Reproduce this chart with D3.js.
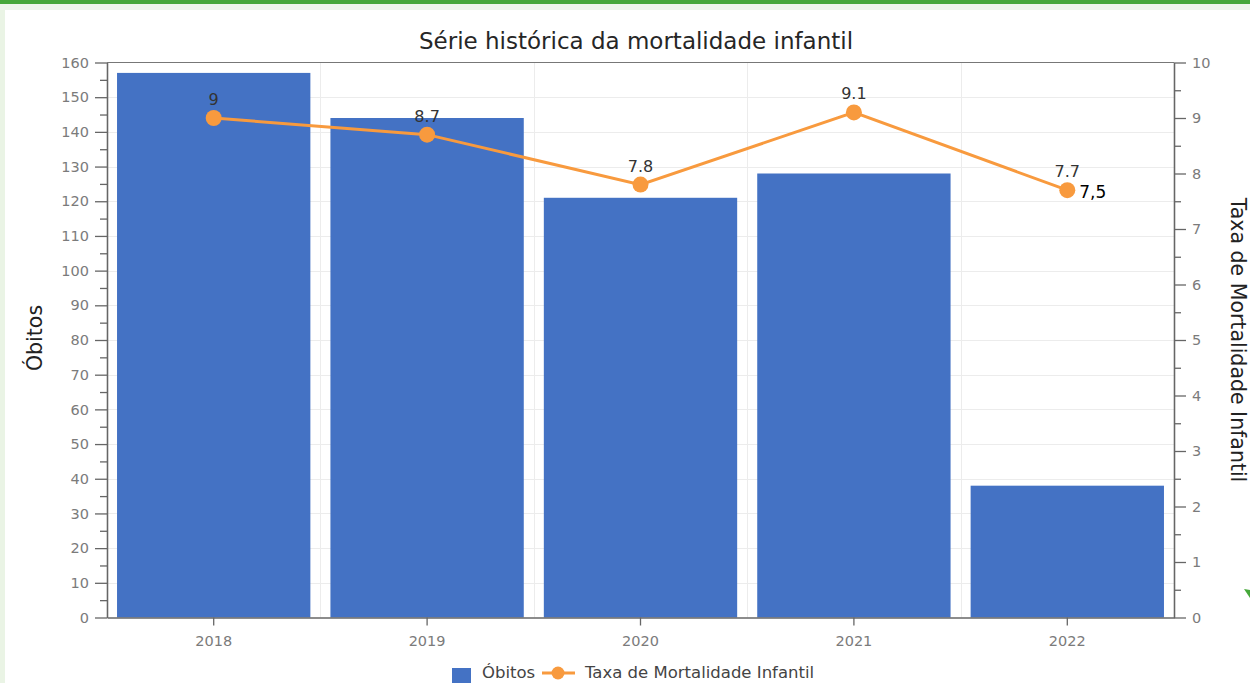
<!DOCTYPE html>
<html>
<head>
<meta charset="utf-8">
<script src="https://cdn.jsdelivr.net/npm/d3@7"></script>
<style>
  html, body { margin: 0; padding: 0; background: #fff; }
  svg { display: block; font-family: "DejaVu Sans", Verdana, sans-serif; }
</style>
</head>
<body>
<svg id="chart" width="1250" height="683"></svg>
<script>
// data
const years = ["2018", "2019", "2020", "2021", "2022"];
const obitos = [157, 144, 121, 128, 38];
const taxa = [9, 8.7, 7.8, 9.1, 7.7];
const taxaLabels = ["9", "8.7", "7.8", "9.1", "7.7"];
const leftTicks = d3.range(0, 161, 10);
const rightTicks = d3.range(0, 11, 1);
const note = "7,5";

const title = "Série histórica da mortalidade infantil";
const leftTitle = "Óbitos";
const rightTitle = "Taxa de Mortalidade Infantil";

/* Set up */
const svg = d3.select("#chart");
const width = 1250;
const height = 683;
const plotLeft = 107, plotRight = 1174, plotTop = 62.5, plotBottom = 617.5;
const barColor = "#4472C4";
const lineColor = "#F89A3E";
const tickColor = "#7b7b7b";

// page decoration round the chart
svg.append("rect").attr("width", width).attr("height", height).attr("fill", "#fff");
svg.append("rect").attr("x", 0).attr("y", 0).attr("width", 5).attr("height", height).attr("fill", "#eaf4e5");
svg.append("rect").attr("x", 0).attr("y", 4).attr("width", width).attr("height", 6).attr("fill", "#eef6ea");
svg.append("rect").attr("x", 0).attr("y", 0).attr("width", width).attr("height", 4).attr("fill", "#46a83a");
svg.append("path").attr("d", "M1244,589 L1250,590 L1250,598 Z").attr("fill", "#46a83a");

const x = d3.scaleBand().domain(years).range([plotLeft, plotRight])
  .paddingInner(0.094).paddingOuter(0.047);
const yL = d3.scaleLinear().domain([0, 160]).range([plotBottom, plotTop]);
const yR = d3.scaleLinear().domain([0, 10]).range([plotBottom, plotTop]);

// grid
const grid = svg.append("g").attr("stroke", "#ececec").attr("stroke-width", 1);
grid.selectAll("line.h").data(leftTicks.slice(1, -1)).join("line")
  .attr("x1", plotLeft).attr("x2", plotRight)
  .attr("y1", d => Math.round(yL(d)) + 0.5).attr("y2", d => Math.round(yL(d)) + 0.5);
grid.selectAll("line.v").data(years.slice(1)).join("line")
  .attr("x1", d => Math.round(x(d) - x.step() * x.paddingInner() / 2) + 0.5)
  .attr("x2", d => Math.round(x(d) - x.step() * x.paddingInner() / 2) + 0.5)
  .attr("y1", plotTop).attr("y2", plotBottom);

// bars
svg.append("g").selectAll("rect").data(years).join("rect")
  .attr("x", d => x(d))
  .attr("y", (d, i) => yL(obitos[i]))
  .attr("width", x.bandwidth())
  .attr("height", (d, i) => plotBottom - yL(obitos[i]))
  .attr("fill", barColor);

// frame top
svg.append("line").attr("x1", plotLeft).attr("x2", plotRight).attr("y1", plotTop).attr("y2", plotTop)
  .attr("stroke", "#777").attr("stroke-width", 1.2);

const styleAxis = (g) => {
  g.select(".domain").attr("stroke", "#666").attr("stroke-width", 1.3);
  g.selectAll(".tick line").attr("stroke", "#666").attr("stroke-width", 1.3);
  g.selectAll(".tick text").attr("fill", tickColor).attr("font-size", 14.5)
    .attr("font-family", "DejaVu Sans");
};

// left axis
svg.append("g").attr("transform", `translate(${plotLeft},0)`)
  .call(d3.axisLeft(yL).tickValues(d3.range(5, 160, 10)).tickSize(7).tickSizeOuter(0).tickFormat(""))
  .call(styleAxis);
svg.append("g").attr("transform", `translate(${plotLeft},0)`)
  .call(d3.axisLeft(yL).tickValues(leftTicks).tickSize(12).tickSizeOuter(0).tickPadding(6))
  .call(styleAxis);

// right axis
svg.append("g").attr("transform", `translate(${plotRight},0)`)
  .call(d3.axisRight(yR).tickValues(d3.range(0.5, 10, 1)).tickSize(7).tickSizeOuter(0).tickFormat(""))
  .call(styleAxis);
svg.append("g").attr("transform", `translate(${plotRight},0)`)
  .call(d3.axisRight(yR).tickValues(rightTicks).tickSize(12).tickSizeOuter(0).tickPadding(6))
  .call(styleAxis);

// bottom axis
svg.append("g").attr("transform", `translate(0,${plotBottom})`)
  .call(d3.axisBottom(x).tickSize(8).tickSizeOuter(0).tickPadding(10))
  .call(styleAxis);

// line series
const cx = d => x(d) + x.bandwidth() / 2;
const line = d3.line().x(d => cx(d)).y((d, i) => yR(taxa[i]));
svg.append("path").datum(years).attr("d", line)
  .attr("fill", "none").attr("stroke", lineColor).attr("stroke-width", 3);
svg.append("g").selectAll("circle").data(years).join("circle")
  .attr("cx", cx).attr("cy", (d, i) => yR(taxa[i])).attr("r", 8)
  .attr("fill", lineColor);
svg.append("g").selectAll("text").data(years).join("text")
  .attr("x", cx).attr("y", (d, i) => yR(taxa[i]) - 13)
  .attr("text-anchor", "middle").attr("font-size", 16).attr("fill", "#333")
  .text((d, i) => taxaLabels[i]);

// loose note next to the last point
svg.append("text")
  .attr("x", cx(years[4]) + 12).attr("y", yR(taxa[4]) + 8)
  .attr("font-size", 17).attr("fill", "#000").text(note);

// titles
svg.append("text").attr("x", 636).attr("y", 49).attr("text-anchor", "middle")
  .attr("font-size", 23).attr("fill", "#262626").text(title);
svg.append("text").attr("transform", "translate(42,338) rotate(-90)")
  .attr("text-anchor", "middle").attr("font-size", 20.5).attr("fill", "#222").text(leftTitle);
svg.append("text").attr("transform", "translate(1231,340) rotate(90)")
  .attr("text-anchor", "middle").attr("font-size", 20.5).attr("fill", "#222").text(rightTitle);

// legend (sits right at the bottom edge, as in the source)
const legend = svg.append("g");
legend.append("rect").attr("x", 452).attr("y", 668).attr("width", 19).attr("height", 15).attr("fill", barColor);
legend.append("text").attr("x", 482).attr("y", 678).attr("font-size", 16.5).attr("fill", "#444").text(leftTitle);
legend.append("line").attr("x1", 542).attr("x2", 575).attr("y1", 673).attr("y2", 673)
  .attr("stroke", lineColor).attr("stroke-width", 3);
legend.append("circle").attr("cx", 558).attr("cy", 673).attr("r", 6.5).attr("fill", lineColor);
legend.append("text").attr("x", 585).attr("y", 678).attr("font-size", 16.5).attr("fill", "#444").text(rightTitle);
</script>
</body>
</html>
